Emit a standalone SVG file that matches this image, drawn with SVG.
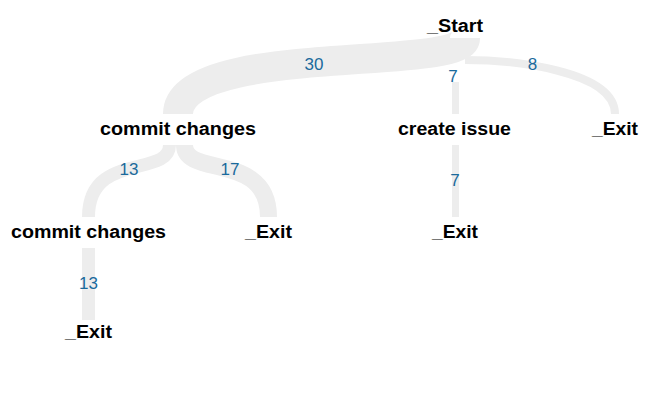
<svg xmlns="http://www.w3.org/2000/svg" width="658" height="401" viewBox="0 0 658 401">
<style>
.link{fill:none;stroke:#ededed;stroke-linecap:butt}
.node text{font-family:"Liberation Sans",Arial,sans-serif;font-weight:bold;font-size:18px;fill:#000;text-anchor:middle}
.lbl{font-family:"Liberation Sans",Arial,sans-serif;font-size:17px;fill:#1a6a9c;text-anchor:middle}
</style>
<rect width="658" height="401" fill="#fff"/>
<g id="links">
<path class="link" stroke-width="8" d="M465,60 C510,60 615,70 615,114"/>
<path class="link" stroke-width="30" d="M465,38 C465,72 178,42 178,114"/>
<path class="link" stroke-width="7" d="M455.5,82 V114"/>
<path class="link" stroke-width="13" d="M169.5,145 C169.5,178 88.5,151 88.5,217"/>
<path class="link" stroke-width="17" d="M184.5,145 C184.5,178 268.5,151 268.5,217"/>
<path class="link" stroke-width="7" d="M455.5,145 V217"/>
<path class="link" stroke-width="13" d="M88.5,248 V320"/>
<text class="lbl" x="314" y="70">30</text>
<text class="lbl" x="453" y="82">7</text>
<text class="lbl" x="532.5" y="70">8</text>
<text class="lbl" x="129" y="174.5">13</text>
<text class="lbl" x="230" y="174.5">17</text>
<text class="lbl" x="455" y="186">7</text>
<text class="lbl" x="88.5" y="289">13</text>
</g>
<g id="n-start" class="node"><text x="455" y="32" textLength="56" lengthAdjust="spacingAndGlyphs">_Start</text></g>
<g id="n-commit1" class="node"><text x="178" y="135" textLength="156" lengthAdjust="spacingAndGlyphs">commit changes</text></g>
<g id="n-create" class="node"><text x="454.5" y="135" textLength="113" lengthAdjust="spacingAndGlyphs">create issue</text></g>
<g id="n-exit1" class="node"><text x="615" y="135" textLength="46" lengthAdjust="spacingAndGlyphs">_Exit</text></g>
<g id="n-commit2" class="node"><text x="88.5" y="238" textLength="155" lengthAdjust="spacingAndGlyphs">commit changes</text></g>
<g id="n-exit2" class="node"><text x="268.5" y="238" textLength="47" lengthAdjust="spacingAndGlyphs">_Exit</text></g>
<g id="n-exit3" class="node"><text x="455" y="238" textLength="46" lengthAdjust="spacingAndGlyphs">_Exit</text></g>
<g id="n-exit4" class="node"><text x="88.5" y="338" textLength="47" lengthAdjust="spacingAndGlyphs">_Exit</text></g>
</svg>
